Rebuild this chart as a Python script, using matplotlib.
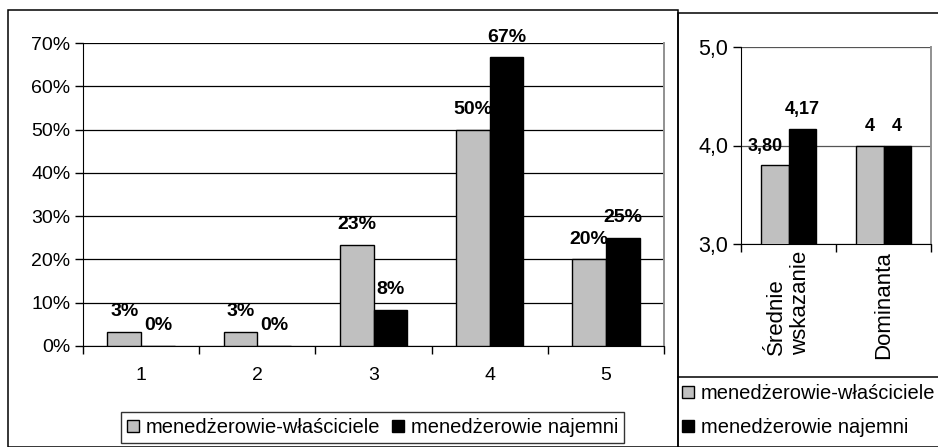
import matplotlib
matplotlib.use('Agg')
import matplotlib.pyplot as plt
from matplotlib.patches import Rectangle, Patch
from matplotlib.lines import Line2D
import numpy as np

plt.rcParams['font.family'] = ['Liberation Sans', 'DejaVu Sans']

W, H = 938, 447
GRAY = '#C0C0C0'

# rozklad odpowiedzi (%)
oceny = ['1', '2', '3', '4', '5']
wlasciciele = [3.33, 3.33, 23.33, 50.0, 20.0]
najemni = [0.0, 0.0, 8.33, 66.67, 25.0]

# miary polozenia
miary = ['Średnie\nwskazanie', 'Dominanta']
wlasciciele_miary = [3.80, 4.0]
najemni_miary = [4.17, 4.0]

nazwy = ['menedżerowie-właściciele', 'menedżerowie najemni']

fig = plt.figure(figsize=(W / 100, H / 100), dpi=100)


def px(x0, y0, x1, y1):
    # prostokat w pikselach -> wspolrzedne figury
    return [x0 / W, 1 - y1 / H, (x1 - x0) / W, (y1 - y0) / H]


def ramka(x0, y0, x1, y1, lw=1.1):
    fig.add_artist(Rectangle((x0 / W, 1 - y1 / H), (x1 - x0) / W, (y1 - y0) / H,
                             transform=fig.transFigure, fill=False,
                             edgecolor='black', linewidth=lw))


def etykieta(a, b, txt, dy, fs, z, dx=0):
    a.annotate(txt, (b.get_x() + b.get_width() / 2, b.get_height() + b.get_y()),
               xytext=(dx, dy), textcoords='offset points',
               ha='center', va='center', fontsize=fs, fontweight='bold', zorder=z)


# ramki obu wykresow
ramka(8, 10, 678, 447)
ramka(678, 13, 960, 447)
fig.add_artist(Line2D([678 / W, 1], [1 - 377 / H] * 2, transform=fig.transFigure,
                      color='black', linewidth=1.1))

# wykres lewy
ax = fig.add_axes(px(83, 43, 664, 346))
x = np.arange(len(oceny))
bw = 0.29
b1 = ax.bar(x - bw / 2, wlasciciele, bw, color=GRAY, edgecolor='black', linewidth=1, zorder=3)
b2 = ax.bar(x + bw / 2, najemni, bw, color='black', edgecolor='black', linewidth=1, zorder=5)
# etykiety pierwszej serii pod slupkami drugiej
for b, v in zip(b1, wlasciciele):
    etykieta(ax, b, f'{v:.0f}%', 14.5, 14, 4)
for b, v in zip(b2, najemni):
    etykieta(ax, b, f'{v:.0f}%', 14.5, 14, 6)

ax.set_xlim(-0.5, len(oceny) - 0.5)
ax.set_ylim(0, 70)
ax.set_yticks(range(0, 71, 10))
ax.set_yticklabels([f'{v}%' for v in range(0, 71, 10)], fontsize=14)
ax.set_xticks(x)
ax.set_xticklabels(oceny, fontsize=14)
ax.set_xticks(np.arange(-0.5, len(oceny)), minor=True)
ax.tick_params(axis='x', which='major', length=0, pad=15)
ax.tick_params(axis='x', which='minor', length=6, width=1, direction='out')
ax.tick_params(axis='y', length=6, width=1, direction='out', pad=3)
ax.grid(axis='y', color='black', linewidth=0.9, zorder=0)
ax.spines['top'].set_visible(False)
ax.spines['right'].set_color('#909090')
ax.spines['right'].set_linewidth(1.4)
for s in ('left', 'bottom'):
    ax.spines[s].set_color('black')
ax.axhline(70, color='#909090', linewidth=1.4, zorder=1)

leg = fig.legend([Patch(facecolor=GRAY, edgecolor='black'), Patch(facecolor='black', edgecolor='black')],
                 nazwy, ncol=2, loc='center', bbox_to_anchor=(372.5 / W, 1 - 427.5 / H),
                 fontsize=14.5, frameon=True, fancybox=False, edgecolor='black',
                 handlelength=0.6, handleheight=0.6, handletextpad=0.35,
                 columnspacing=0.55, borderpad=0.3, borderaxespad=0)
leg.get_frame().set_linewidth(1)

# wykres prawy
ax2 = fig.add_axes(px(741, 47, 931, 244))
x2 = np.arange(len(miary))
bw2 = 0.285
c1 = ax2.bar(x2 - bw2 / 2, wlasciciele_miary, bw2, color=GRAY, edgecolor='black', linewidth=1, zorder=3)
c2 = ax2.bar(x2 + bw2 / 2, najemni_miary, bw2, color='black', edgecolor='black', linewidth=1, zorder=5)
for i, (b, v) in enumerate(zip(c1, wlasciciele_miary)):
    txt = f'{v:.2f}'.replace('.', ',') if i == 0 else f'{v:.0f}'
    etykieta(ax2, b, txt, 13.7, 13, 6, dx=-7 if i == 0 else 0)
for i, (b, v) in enumerate(zip(c2, najemni_miary)):
    txt = f'{v:.2f}'.replace('.', ',') if i == 0 else f'{v:.0f}'
    etykieta(ax2, b, txt, 13.7, 13, 6)

ax2.set_xlim(-0.5, len(miary) - 0.5)
ax2.set_ylim(3, 5)
ax2.set_yticks([3, 4, 5])
ax2.set_yticklabels(['3,0', '4,0', '5,0'], fontsize=15.5)
ax2.set_xticks(x2)
ax2.set_xticklabels(miary, fontsize=16, rotation=90, multialignment='left')
ax2.set_xticks(np.arange(-0.5, len(miary)), minor=True)
ax2.tick_params(axis='x', which='major', length=0, pad=5)
ax2.tick_params(axis='x', which='minor', length=6, width=1, direction='out')
ax2.tick_params(axis='y', length=6, width=1, direction='out', pad=3)
ax2.grid(axis='y', color='#555555', linewidth=0.9, zorder=0)
ax2.spines['top'].set_visible(False)
ax2.spines['right'].set_color('#909090')
ax2.spines['right'].set_linewidth(1.4)
ax2.axhline(5, color='#909090', linewidth=1.4, zorder=1)

leg2 = fig.legend([Patch(facecolor=GRAY, edgecolor='black'), Patch(facecolor='black', edgecolor='black')],
                  nazwy, ncol=1, loc='upper left', bbox_to_anchor=(680 / W, 1 - 382 / H),
                  fontsize=14.5, frameon=False,
                  handlelength=0.6, handleheight=0.6, handletextpad=0.35,
                  labelspacing=0.75, borderpad=0.1, borderaxespad=0)

fig.savefig('out.png', dpi=100, facecolor='white')
